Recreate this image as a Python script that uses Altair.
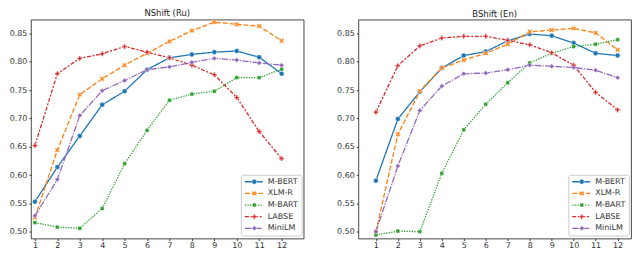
import altair as alt
import pandas as pd

layers = list(range(1, 13))
models = ["M-BERT", "XLM-R", "M-BART", "LABSE", "MiniLM"]
colors = ["#1f77b4", "#ff7f0e", "#2ca02c", "#d62728", "#9467bd"]
y_ticks = [0.50, 0.55, 0.60, 0.65, 0.70, 0.75, 0.80, 0.85]

# NShift (Ru)
ru_mbert = [0.553, 0.614, 0.669, 0.724, 0.748, 0.786, 0.807, 0.813, 0.817, 0.819, 0.808, 0.779]
ru_xlmr = [0.525, 0.644, 0.742, 0.770, 0.794, 0.815, 0.836, 0.855, 0.870, 0.866, 0.863, 0.837]
ru_mbart = [0.516, 0.508, 0.506, 0.541, 0.620, 0.679, 0.732, 0.743, 0.748, 0.772, 0.772, 0.787]
ru_labse = [0.652, 0.779, 0.806, 0.814, 0.827, 0.817, 0.807, 0.794, 0.777, 0.737, 0.677, 0.629]
ru_minilm = [0.528, 0.592, 0.705, 0.749, 0.767, 0.786, 0.791, 0.799, 0.806, 0.803, 0.798, 0.794]

# BShift (En)
en_mbert = [0.590, 0.699, 0.747, 0.789, 0.811, 0.818, 0.837, 0.849, 0.846, 0.833, 0.815, 0.811]
en_xlmr = [0.500, 0.672, 0.748, 0.789, 0.803, 0.815, 0.831, 0.853, 0.856, 0.859, 0.851, 0.821]
en_mbart = [0.494, 0.501, 0.500, 0.603, 0.680, 0.725, 0.763, 0.798, 0.815, 0.827, 0.831, 0.839]
en_labse = [0.711, 0.793, 0.828, 0.842, 0.845, 0.845, 0.838, 0.830, 0.816, 0.794, 0.746, 0.715]
en_minilm = [0.500, 0.616, 0.714, 0.757, 0.779, 0.780, 0.786, 0.794, 0.792, 0.790, 0.785, 0.772]

dashes = [[1, 0], [5, 2], [1.3, 1.3], [4, 1.6, 2, 1.6], [6.5, 1.3, 1.3, 1.3]]
X_PATH = ("M0,-0.45L0.55,-1L1,-0.55L0.45,0L1,0.55L0.55,1L0,0.45"
          "L-0.55,1L-1,0.55L-0.45,0L-1,-0.55L-0.55,-1Z")
SQUARE_PATH = "M-0.75,-0.75H0.75V0.75H-0.75Z"
PLUS_PATH = "M-0.33,-1H0.33V-0.33H1V0.33H0.33V1H-0.33V0.33H-1V-0.33H-0.33Z"
LINE_PATH = "M-3,0H3"
shapes = ["circle", X_PATH, SQUARE_PATH, PLUS_PATH, "diamond"]


def make_df(series):
    rows = []
    for m, vals in zip(models, series):
        for l, v in zip(layers, vals):
            rows.append({"layer": l, "value": v, "model": m, "m2": m})
    return pd.DataFrame(rows)


ru_df = make_df([ru_mbert, ru_xlmr, ru_mbart, ru_labse, ru_minilm])
en_df = make_df([en_mbert, en_xlmr, en_mbart, en_labse, en_minilm])

LEG_X = 211
LEG_Y = 156
PANEL_W = 274
PANEL_H = 220


def panel(df, title, xdom):
    base = alt.Chart(df)
    x = alt.X("layer:Q",
              scale=alt.Scale(domain=xdom, nice=False, zero=False),
              axis=alt.Axis(values=layers, format="d", title=None,
                            tickSize=2, labelPadding=1))
    y = alt.Y("value:Q",
              scale=alt.Scale(domain=[0.488, 0.8746], nice=False, zero=False),
              axis=alt.Axis(values=y_ticks, format=".2f", title=None,
                            tickSize=2, labelPadding=2))
    common = dict(title=None, orient="none", legendX=LEG_X, legendY=LEG_Y,
                  padding=3, rowPadding=3.7, labelFontSize=8, labelOffset=10)
    leg_a = alt.Legend(symbolType=LINE_PATH, symbolSize=36, symbolStrokeWidth=1.3,
                       symbolFillColor="transparent", symbolOffset=6,
                       fillColor="rgba(255,255,255,0.85)", strokeColor="#cccccc",
                       cornerRadius=2, **common)
    leg_b = alt.Legend(symbolSize=25, labelOpacity=0, symbolOffset=6.5,
                       symbolStrokeColor="white", symbolStrokeWidth=0.4, **common)
    lines = base.mark_line(strokeWidth=1.3).encode(
        x=x, y=y,
        color=alt.Color("model:N", scale=alt.Scale(domain=models, range=colors), legend=leg_a),
        strokeDash=alt.StrokeDash("model:N", scale=alt.Scale(domain=models, range=dashes), legend=leg_a),
    )
    points = base.mark_point(filled=True, size=25, stroke="white", strokeWidth=0.4, opacity=1).encode(
        x=x, y=y,
        color=alt.Color("m2:N", scale=alt.Scale(domain=models, range=colors), legend=leg_b),
        shape=alt.Shape("m2:N", scale=alt.Scale(domain=models, range=shapes), legend=leg_b),
    )
    return alt.layer(lines, points).resolve_scale(
        color="independent", shape="independent", strokeDash="independent"
    ).properties(width=PANEL_W, height=PANEL_H, title=title)


left = panel(ru_df, "NShift (Ru)", [0.82, 12.98])
right = panel(en_df, "BShift (En)", [0.2, 12.61])

chart = alt.hconcat(left, right, spacing=31).resolve_scale(
    color="independent", shape="independent", strokeDash="independent"
).properties(
    padding={"left": 0, "top": 0, "right": 0, "bottom": 0}
).configure_view(
    stroke="#333333", strokeWidth=0.9
).configure_axis(
    labelFont="DejaVu Sans", labelFontSize=8, labelColor="#333333",
    tickColor="#333333", domain=False, grid=False
).configure_legend(
    labelFont="DejaVu Sans", labelColor="#333333"
).configure_title(
    font="DejaVu Sans", fontSize=8.5, fontWeight="normal", color="#222222",
    offset=1, anchor="middle"
)

chart.save("out.html", embed_options={"renderer": "svg", "actions": False})
